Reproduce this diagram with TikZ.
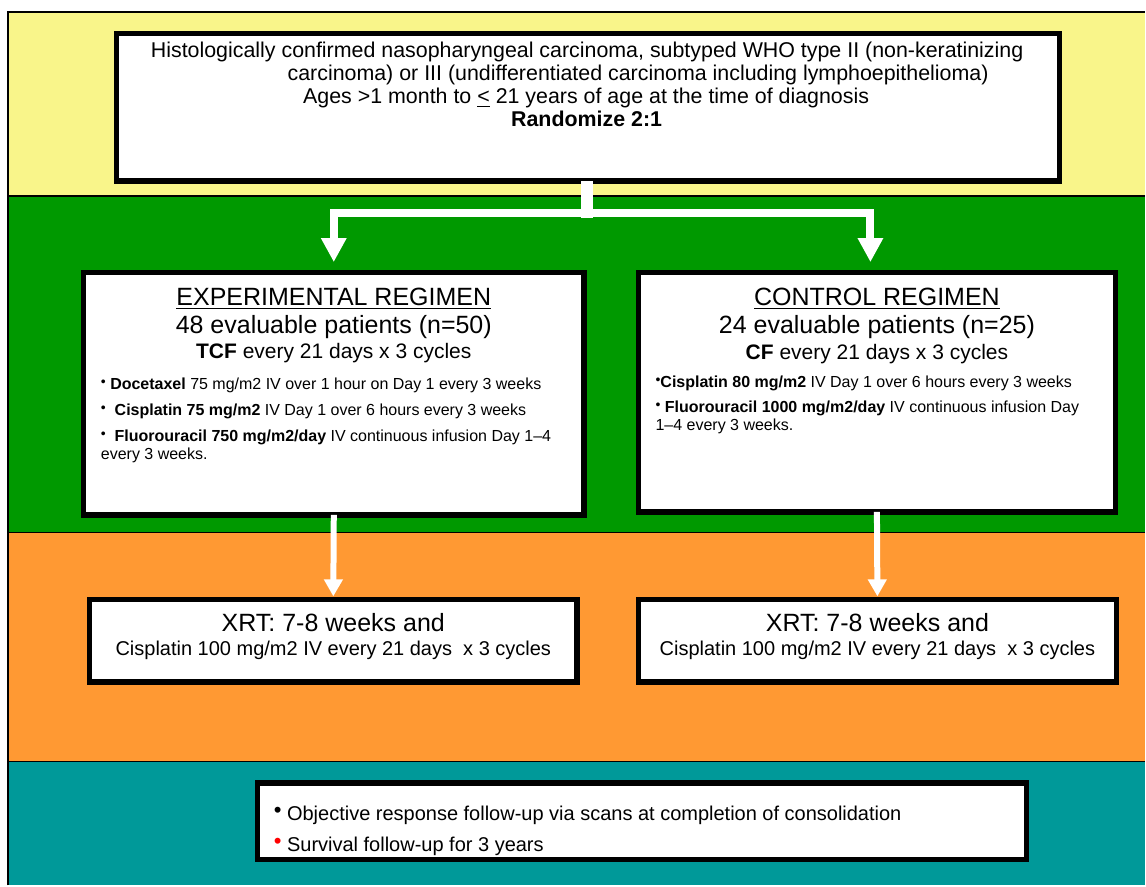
\documentclass[tikz,border=0pt]{standalone}
\usepackage{fontspec}
\setmainfont{Liberation Sans}
\usetikzlibrary{arrows.meta,calc}
\definecolor{ybg}{RGB}{249,245,138}
\definecolor{gbg}{RGB}{0,153,0}
\definecolor{obg}{RGB}{255,153,51}
\definecolor{tbg}{RGB}{0,153,153}
\newcommand\fsz[1]{\fontsize{#1}{#1}\selectfont}
\newcommand\myul[1]{\setbox0\hbox{#1}\rlap{\rule[-3.5pt]{\wd0}{1.5pt}}\box0}
\newcommand\smbul{{\fsz{14}\raisebox{3.5pt}{•}}}
\begin{document}
\begin{tikzpicture}[x=1pt,y=-1pt,
  box/.style={draw=black, fill=white, line width=5.5pt, inner sep=0pt, outer sep=0pt},
  txt/.style={inner sep=0pt, outer sep=0pt, anchor=base, text=black},
  ltxt/.style={inner sep=0pt, outer sep=0pt, anchor=base west, text=black},
  forkline/.style={draw=white, line width=8pt, -{Triangle[width=24pt,length=24pt]}},
  dnline/.style={draw=white, line width=6pt, -{Triangle[width=18pt,length=17pt]}},
  sep/.style={draw=black, line width=1.5pt}]
% page
\fill[white] (0,0) rectangle (1146,886);
% bands
\fill[ybg] (8,12) rectangle (1146,196);
\fill[gbg] (8,196) rectangle (1146,533);
\fill[obg] (8,533) rectangle (1146,762);
\fill[tbg] (8,762) rectangle (1146,886);
\draw[sep] (8,886) -- (8,12) -- (1146,12);
\draw[sep] (8,196) -- (1146,196);
\draw[sep] (8,533) -- (1146,533);
\draw[sep] (8,762) -- (1146,762);
% boxes
\node[box, minimum width=943.5pt, minimum height=147.5pt] (top) at (588.5,107.5) {};
\node[box, minimum width=500.5pt, minimum height=242.5pt] (exp) at (334,394) {};
\node[box, minimum width=477.5pt, minimum height=239.5pt] (ctl) at (877.5,392.5) {};
\node[box, minimum width=487.5pt, minimum height=82.5pt] (xrtl) at (333.5,641) {};
\node[box, minimum width=478.5pt, minimum height=82.5pt] (xrtr) at (878,641) {};
\node[box, minimum width=769.5pt, minimum height=76.5pt] (fu) at (642.5,822) {};
% connectors
\coordinate (j) at (587,213.5);
\coordinate (jb) at (587,218);
\draw[white, line width=12pt] (top.south -| j) -- (jb);
\draw[forkline, shorten >=10.5pt] (j) -| (exp.north);
\draw[forkline, shorten >=10.5pt] (j) -| ($(ctl.north)+(-6.5,0)$);
\draw[dnline, shorten >=3pt] (exp.south) -- (xrtl.north);
\draw[dnline, shorten >=3pt] (ctl.south) -- (xrtr.north);
% top text
\node[txt, font=\fsz{21.4}] (t1) at (587.5,58) {Histologically confirmed nasopharyngeal carcinoma, subtyped WHO type II (non-keratinizing};
\node[txt, font=\fsz{21.4}] (t2) at (638.5,81) {carcinoma) or III (undifferentiated carcinoma including lymphoepithelioma)};
\node[txt, font=\fsz{21.4}] (t3) at (586.5,104) {Ages >1 month to \myul{<}\ 21 years of age at the time of diagnosis};
\node[txt, font=\fsz{21.4}\bfseries] (t4) at (587,127) {Randomize 2:1};
% experimental
\node[txt, font=\fsz{25}] (e1) at (334,306) {\myul{EXPERIMENTAL REGIMEN}};
\node[txt, font=\fsz{25}] (e2) at (334,334) {48 evaluable patients (n=50)};
\node[txt, font=\fsz{21}] (e3) at (334,359) {\textbf{TCF} every 21 days x 3 cycles};
\node[ltxt, font=\fsz{16}] (e4) at (101,390) {\smbul\ \textbf{Docetaxel} 75 mg/m2 IV over 1 hour on Day 1 every 3 weeks};
\node[ltxt, font=\fsz{16}] (e5) at (101,416) {\smbul\ \ \textbf{Cisplatin 75 mg/m2} IV Day 1 over 6 hours every 3 weeks};
\node[ltxt, font=\fsz{16}] (e6) at (101,442) {\smbul\ \ \textbf{Fluorouracil 750 mg/m2/day} IV continuous infusion Day 1–4};
\node[ltxt, font=\fsz{16}] (e7) at (101,459.5) {every 3 weeks.};
% control
\node[txt, font=\fsz{25}] (c1) at (877.5,306) {\myul{CONTROL REGIMEN}};
\node[txt, font=\fsz{25}] (c2) at (877.5,334) {24 evaluable patients (n=25)};
\node[txt, font=\fsz{21}] (c3) at (877.5,360) {\textbf{CF} every 21 days x 3 cycles};
\node[ltxt, font=\fsz{16}] (c4) at (656,388) {\smbul\textbf{Cisplatin 80 mg/m2} IV Day 1 over 6 hours every 3 weeks};
\node[ltxt, font=\fsz{16}] (c5) at (656,413) {\smbul\ \textbf{Fluorouracil 1000 mg/m2/day} IV continuous infusion Day};
\node[ltxt, font=\fsz{16}] (c6) at (656,431) {1–4 every 3 weeks.};
% XRT
\node[txt, font=\fsz{25}] (x1) at (333.5,632) {XRT: 7-8 weeks and};
\node[txt, font=\fsz{20}] (x2) at (333.5,656) {Cisplatin 100 mg/m2 IV every 21 days\ \ x 3 cycles};
\node[txt, font=\fsz{25}] (x3) at (878,632) {XRT: 7-8 weeks and};
\node[txt, font=\fsz{20}] (x4) at (878,656) {Cisplatin 100 mg/m2 IV every 21 days\ \ x 3 cycles};
% follow-up
\node[ltxt, font=\fsz{20}] (f1) at (274,821) {\raisebox{3pt}{\fsz{22}•} Objective response follow-up via scans at completion of consolidation};
\node[ltxt, font=\fsz{20}] (f2) at (274,852) {\raisebox{3pt}{\fsz{22}\textcolor{red}{•}} Survival follow-up for 3 years};
\end{tikzpicture}
\end{document}
